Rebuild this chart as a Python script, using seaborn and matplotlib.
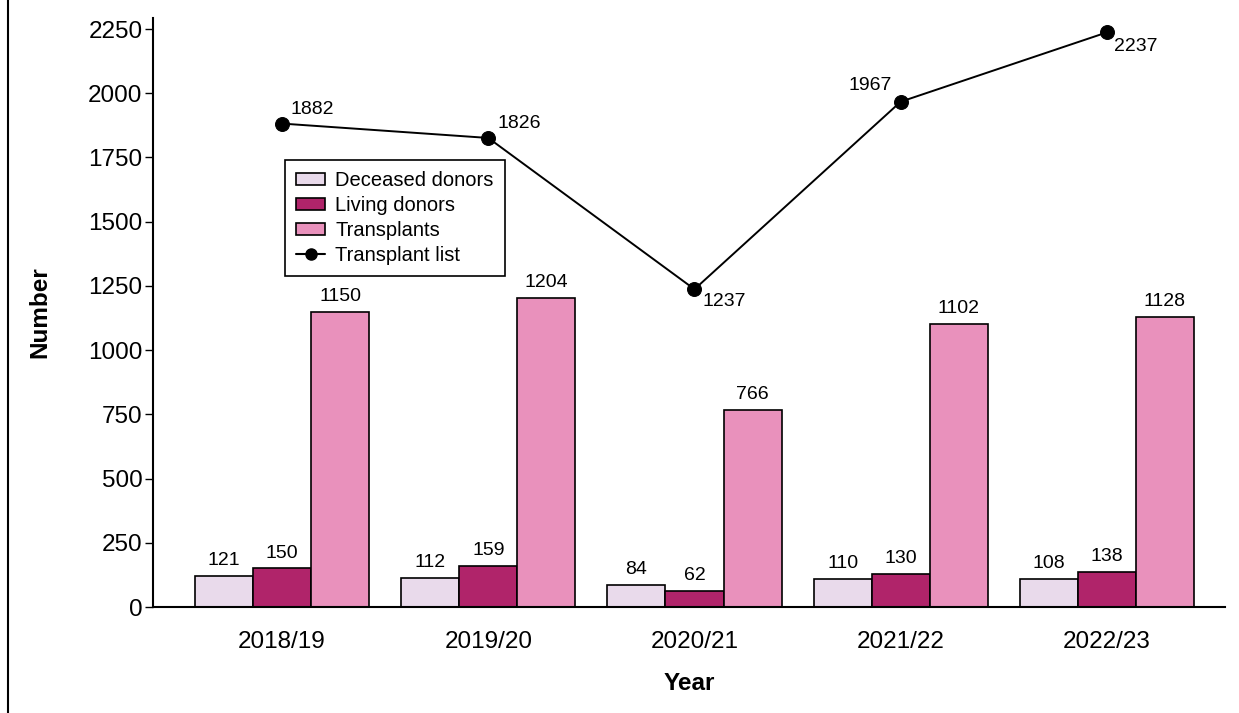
import numpy as np
import pandas as pd
import matplotlib
matplotlib.use("Agg")
import matplotlib.pyplot as plt
from matplotlib.patches import Patch
from matplotlib.lines import Line2D
import seaborn as sns

years = ["2018/19", "2019/20", "2020/21", "2021/22", "2022/23"]
deceased_donors = [121, 112, 84, 110, 108]
living_donors = [150, 159, 62, 130, 138]
transplants = [1150, 1204, 766, 1102, 1128]
transplant_list = [1882, 1826, 1237, 1967, 2237]
series_names = ["Deceased donors", "Living donors", "Transplants"]
colors = ["#E9DAEB", "#B0246A", "#E991BC"]

sns.set_theme(style="white")
plt.rcParams['font.family'] = ['Liberation Sans', 'DejaVu Sans']
plt.rcParams['text.color'] = 'black'
plt.rcParams['axes.labelcolor'] = 'black'
plt.rcParams['xtick.color'] = 'black'
plt.rcParams['ytick.color'] = 'black'

df = pd.DataFrame({
    "Year": years * 3,
    "Series": [series_names[0]] * 5 + [series_names[1]] * 5 + [series_names[2]] * 5,
    "Number": deceased_donors + living_donors + transplants,
})

fig = plt.figure(figsize=(12.39, 7.13), dpi=100)
ax = fig.add_axes([153 / 1239, 1 - 607 / 713, (1225 - 153) / 1239, (607 - 18) / 713])

sns.barplot(data=df, x="Year", y="Number", hue="Series", palette=colors,
            width=0.845, edgecolor="black", linewidth=1.2, saturation=1,
            ax=ax, legend=False, errorbar=None)

for cont in ax.containers:
    ax.bar_label(cont, fmt="%d", padding=5, fontsize=14)

sns.lineplot(x=np.arange(len(years)), y=transplant_list, color="black",
             linewidth=1.4, marker="o", markersize=10, markeredgecolor="black",
             ax=ax, legend=False)

offsets = [(8, 14, "left"), (9, 14, "left"), (8, -12, "left"), (-9, 16, "right"), (7, -14, "left")]
for i, (v, (dx, dy, ha)) in enumerate(zip(transplant_list, offsets)):
    ax.annotate(str(v), (i, v), xytext=(dx * 0.72, dy * 0.72), textcoords="offset points",
                ha=ha, va="center", fontsize=14)

ax.set_xlim(-0.626, 4.573)
ax.set_ylim(0, 2293)
ax.set_yticks([0, 250, 500, 750, 1000, 1250, 1500, 1750, 2000, 2250])
ax.tick_params(axis="y", left=True, length=5.5, width=1, labelsize=17.5, pad=2)
ax.tick_params(axis="x", bottom=False, length=0, labelsize=17.5, pad=17)
for s in ["top", "right"]:
    ax.spines[s].set_visible(False)
for s in ["left", "bottom"]:
    ax.spines[s].set_color("black")
    ax.spines[s].set_linewidth(1.5)

ax.set_xlabel("Year", fontsize=17.5, fontweight="bold")
ax.set_ylabel("Number", fontsize=17.5, fontweight="bold")
ax.xaxis.set_label_coords(0.5, (607 - 672) / 589)
ax.yaxis.set_label_coords((51 - 153) / 1072, 0.5)

handles = [Patch(facecolor=c, edgecolor="black", linewidth=1.2) for c in colors]
handles.append(Line2D([0], [0], color="black", linewidth=1.5, marker="o", markersize=8))
leg = ax.legend(handles, series_names + ["Transplant list"], loc="upper left",
                bbox_to_anchor=((285 - 153) / 1072, (607 - 160) / 589),
                fontsize=14.5, frameon=True, fancybox=False, edgecolor="black",
                framealpha=1, labelspacing=0.3, handlelength=1.45, handleheight=0.6,
                handletextpad=0.5, borderpad=0.55, borderaxespad=0)
leg.get_frame().set_linewidth(1.2)
for t in leg.get_texts():
    t.set_color("black")

fig.add_artist(Line2D([7.5 / 1239, 7.5 / 1239], [0, 1], color="black", linewidth=1.5,
                      transform=fig.transFigure))

fig.savefig("out.png", dpi=100)
